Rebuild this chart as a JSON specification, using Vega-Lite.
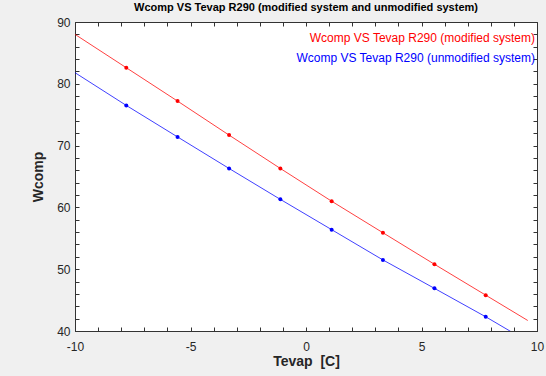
{
  "$schema": "https://vega.github.io/schema/vega-lite/v6.json",
  "width": 462,
  "height": 309,
  "autosize": {"type": "none"},
  "padding": {"left": 75, "top": 22, "right": 9, "bottom": 45},
  "background": "#f0f0f0",
  "title": {
    "text": "Wcomp VS Tevap R290 (modified system and unmodified system)",
    "font": "Liberation Sans",
    "fontSize": 11,
    "fontWeight": "bold",
    "color": "#000000",
    "offset": 3,
    "anchor": "middle"
  },
  "config": {
    "view": {"fill": "#ffffff", "stroke": "#333333", "strokeWidth": 1},
    "axis": {
      "grid": false,
      "domainColor": "#333333",
      "tickColor": "#333333",
      "tickSize": -4,
      "labelFlush": false,
      "labelOverlap": false,
      "labelFont": "Liberation Sans",
      "labelFontSize": 12,
      "labelColor": "#262626",
      "titleFont": "Liberation Sans",
      "titleFontSize": 14,
      "titleFontWeight": "bold",
      "titleColor": "#262626"
    },
    "legend": {
      "labelFont": "Liberation Sans",
      "labelFontSize": 12
    }
  },
  "data": {
    "values": [
      {"series": "Wcomp VS Tevap R290 (modified system)", "kind": "end", "t": -10, "w": 88.0},
      {"series": "Wcomp VS Tevap R290 (modified system)", "kind": "pt", "t": -7.78, "w": 82.6},
      {"series": "Wcomp VS Tevap R290 (modified system)", "kind": "pt", "t": -5.56, "w": 77.2},
      {"series": "Wcomp VS Tevap R290 (modified system)", "kind": "pt", "t": -3.33, "w": 71.7},
      {"series": "Wcomp VS Tevap R290 (modified system)", "kind": "pt", "t": -1.11, "w": 66.3},
      {"series": "Wcomp VS Tevap R290 (modified system)", "kind": "pt", "t": 1.11, "w": 61.0},
      {"series": "Wcomp VS Tevap R290 (modified system)", "kind": "pt", "t": 3.33, "w": 55.9},
      {"series": "Wcomp VS Tevap R290 (modified system)", "kind": "pt", "t": 5.56, "w": 50.8},
      {"series": "Wcomp VS Tevap R290 (modified system)", "kind": "pt", "t": 7.78, "w": 45.8},
      {"series": "Wcomp VS Tevap R290 (modified system)", "kind": "end", "t": 9.6, "w": 41.7},
      {"series": "Wcomp VS Tevap R290 (unmodified system)", "kind": "end", "t": -10, "w": 81.8},
      {"series": "Wcomp VS Tevap R290 (unmodified system)", "kind": "pt", "t": -7.78, "w": 76.5},
      {"series": "Wcomp VS Tevap R290 (unmodified system)", "kind": "pt", "t": -5.56, "w": 71.4},
      {"series": "Wcomp VS Tevap R290 (unmodified system)", "kind": "pt", "t": -3.33, "w": 66.3},
      {"series": "Wcomp VS Tevap R290 (unmodified system)", "kind": "pt", "t": -1.11, "w": 61.3},
      {"series": "Wcomp VS Tevap R290 (unmodified system)", "kind": "pt", "t": 1.11, "w": 56.4},
      {"series": "Wcomp VS Tevap R290 (unmodified system)", "kind": "pt", "t": 3.33, "w": 51.5},
      {"series": "Wcomp VS Tevap R290 (unmodified system)", "kind": "pt", "t": 5.56, "w": 46.9},
      {"series": "Wcomp VS Tevap R290 (unmodified system)", "kind": "pt", "t": 7.78, "w": 42.3},
      {"series": "Wcomp VS Tevap R290 (unmodified system)", "kind": "end", "t": 9.6, "w": 38.3}
    ]
  },
  "layer": [
    {
      "mark": {"type": "line", "strokeWidth": 1, "opacity": 0.75, "clip": true},
      "encoding": {
        "x": {
          "field": "t", "type": "quantitative",
          "scale": {"domain": [-10, 10], "nice": false, "zero": false},
          "axis": {
            "orient": "bottom",
            "title": "Tevap\u00a0 [C]",
            "values": [-10,-9,-8,-7,-6,-5,-4,-3,-2,-1,0,1,2,3,4,5,6,7,8,9,10],
            "labelExpr": "datum.value % 5 == 0 ? '' + datum.value : ''",
            "labelPadding": 14,
            "titlePadding": 2
          }
        },
        "y": {
          "field": "w", "type": "quantitative",
          "scale": {"domain": [40, 90], "nice": false, "zero": false},
          "axis": {
            "orient": "left",
            "title": "Wcomp",
            "values": [40,42,44,46,48,50,52,54,56,58,60,62,64,66,68,70,72,74,76,78,80,82,84,86,88,90],
            "labelExpr": "datum.value % 10 == 0 ? datum.label : ''",
            "labelPadding": 9,
            "titlePadding": 11
          }
        },
        "color": {
          "field": "series", "type": "nominal",
          "scale": {
            "domain": ["Wcomp VS Tevap R290 (modified system)", "Wcomp VS Tevap R290 (unmodified system)"],
            "range": ["#ff0000", "#0000ff"]
          },
          "legend": {
            "title": null,
            "orient": "none",
            "legendX": 446,
            "legendY": 8,
            "padding": 2,
            "symbolSize": 0,
            "symbolStrokeWidth": 0,
            "symbolOpacity": 0,
            "labelOffset": 0,
            "rowPadding": 8,
            "labelLimit": 400,
            "labelAlign": "right",
            "encode": {
              "labels": {"update": {"fill": {"scale": "color", "field": "value"}}}
            }
          }
        }
      }
    },
    {
      "transform": [{"filter": "datum.kind == 'pt'"}],
      "mark": {"type": "circle", "size": 16, "opacity": 1},
      "encoding": {
        "x": {
          "field": "t", "type": "quantitative",
          "axis": {
            "orient": "top",
            "title": null,
            "labels": false,
            "domain": false,
            "values": [-10,-9,-8,-7,-6,-5,-4,-3,-2,-1,0,1,2,3,4,5,6,7,8,9,10]
          }
        },
        "y": {
          "field": "w", "type": "quantitative",
          "axis": {
            "orient": "right",
            "title": null,
            "labels": false,
            "domain": false,
            "values": [40,42,44,46,48,50,52,54,56,58,60,62,64,66,68,70,72,74,76,78,80,82,84,86,88,90]
          }
        },
        "color": {"field": "series", "type": "nominal"}
      }
    }
  ],
  "resolve": {"axis": {"x": "independent", "y": "independent"}}
}
